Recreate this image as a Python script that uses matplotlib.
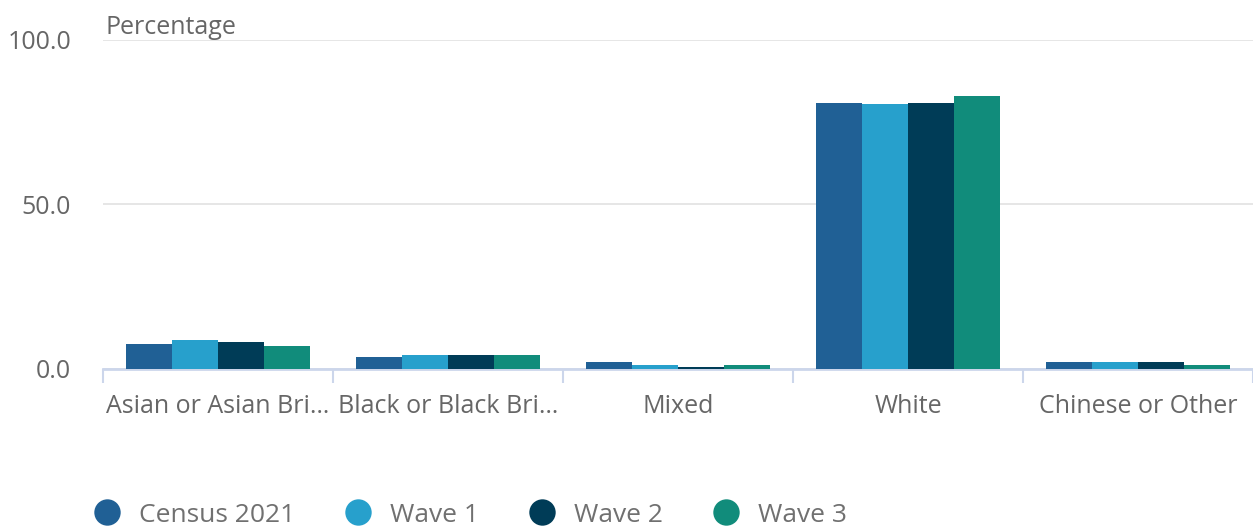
import numpy as np
import matplotlib.pyplot as plt
from matplotlib.lines import Line2D

plt.rcParams['font.family'] = ['Open Sans', 'DejaVu Sans']

categories = ['Asian or Asian Bri…', 'Black or Black Bri…', 'Mixed', 'White', 'Chinese or Other']
series = ['Census 2021', 'Wave 1', 'Wave 2', 'Wave 3']
census = [7.6, 3.5, 2.0, 81.0, 2.0]
wave1 = [8.9, 4.3, 1.3, 80.4, 2.0]
wave2 = [8.3, 4.3, 0.7, 81.0, 2.0]
wave3 = [6.9, 4.3, 1.3, 83.0, 1.3]
colors = ['#206095', '#27a0cc', '#003c57', '#118c7b']

values = [census, wave1, wave2, wave3]

fig = plt.figure(figsize=(12.53, 5.29), dpi=100)
ax = fig.add_axes([103 / 1253, 1 - 369 / 529, 1150 / 1253, 329 / 529])

x = np.arange(len(categories))
w = 0.2
for i, (vals, c) in enumerate(zip(values, colors)):
    ax.bar(x + (i - 1.5) * w, vals, width=w, color=c, edgecolor='none', zorder=3)

ax.set_xlim(-0.5, len(categories) - 0.5)
ax.set_ylim(0, 100)
ax.set_yticks([0, 50, 100])
ax.set_yticklabels(['0.0', '50.0', '100.0'])
ax.yaxis.grid(True, color='#e2e2e2', linewidth=1.2, zorder=0)
ax.tick_params(axis='y', length=0, pad=23, labelsize=18, labelcolor='#666666')

# category labels centred, ticks on the boundaries
ax.set_xticks(x)
ax.set_xticklabels(categories)
ax.tick_params(axis='x', which='major', length=0, pad=18, labelsize=18, labelcolor='#666666')
ax.set_xticks(np.arange(-0.5, len(categories)), minor=True)
ax.tick_params(axis='x', which='minor', length=10, width=1.5, color='#ccd6eb')

for s in ['top', 'right', 'left']:
    ax.spines[s].set_visible(False)
ax.spines['bottom'].set_color('#ccd6eb')
ax.spines['bottom'].set_linewidth(2)

fig.text(105 / 1253, 1 - 27 / 529, 'Percentage', fontsize=18, color='#666666', va='center', ha='left')

handles = [Line2D([], [], marker='o', linestyle='none', markersize=19,
                  markerfacecolor=c, markeredgecolor='none') for c in colors]
fig.legend(handles, series, loc='center left', bbox_to_anchor=(78 / 1253, 1 - 515 / 529),
           ncol=4, frameon=False, fontsize=19, labelcolor='#707070',
           handletextpad=0.6, columnspacing=1.8, borderpad=0, handlelength=1.2)

fig.savefig('out.png', dpi=100)
